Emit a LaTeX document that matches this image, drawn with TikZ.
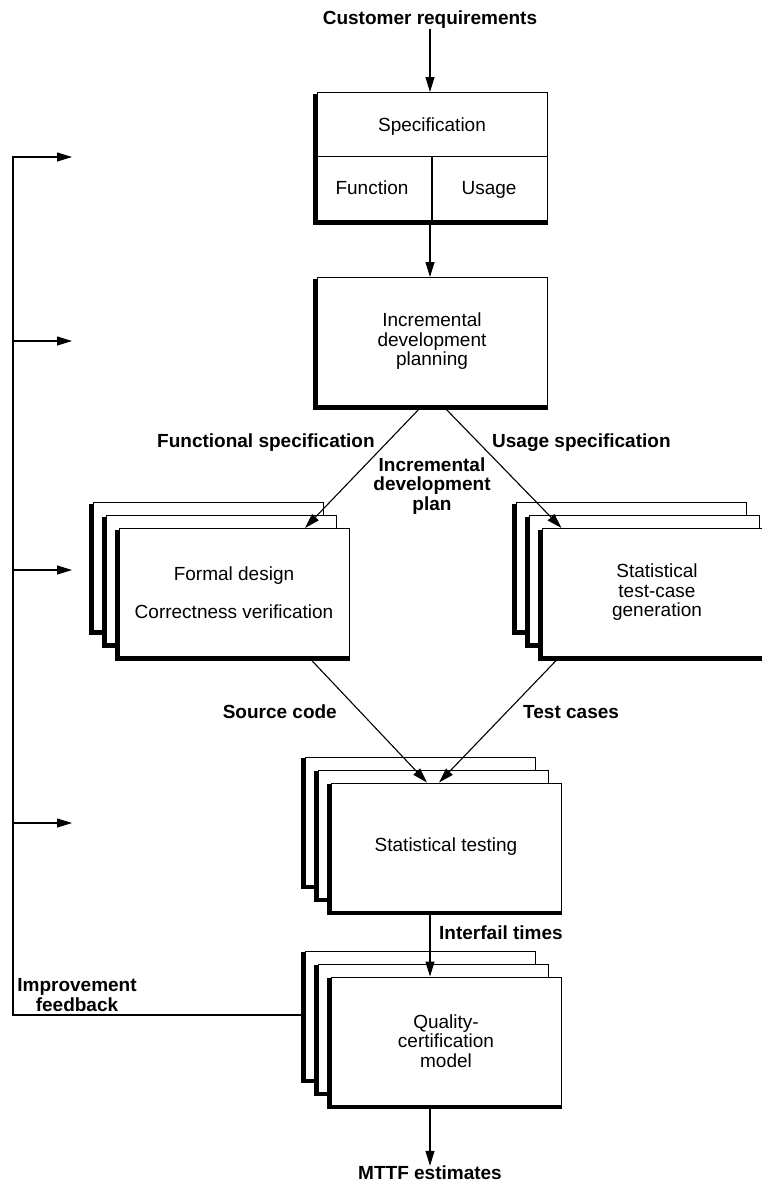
\documentclass[tikz,border=0pt]{standalone}
\usepackage{fontspec}
\setmainfont{Liberation Sans}
\usetikzlibrary{arrows.meta}

\newcommand\fs{\fontsize{19}{19.5}\selectfont}

\tikzset{
  x=1pt, y=-1pt,
  box/.style={draw, fill=white, line width=1pt, minimum width=230pt,
              minimum height=128pt, inner sep=0pt, align=center, font=\fs},
  lbl/.style={font=\fs\bfseries, inner sep=0pt, align=center},
  txt/.style={font=\fs, inner sep=0pt, align=center},
  arr/.style={line width=1.1pt, -{Triangle[length=15pt,width=9pt]}},
  ln/.style={line width=1.1pt},
  shadeedge/.style={line width=4pt, line join=miter},
}

% heavy rule along the left and bottom side of a box
\newcommand\edgeshade[1]{%
  \draw[shadeedge] ([shift={(-1.5pt,-1.5pt)}]#1.north west)
    -- ([shift={(-1.5pt,-1.5pt)}]#1.south west)
    -- ([shift={(0pt,-1.5pt)}]#1.south east);}

% three staggered cards; the front one carries the text
\newcommand\cardstack[4]{%
  \node[box] (#1c) at (#2-26,#3-26) {}; \edgeshade{#1c}
  \node[box] (#1b) at (#2-13,#3-13) {}; \edgeshade{#1b}
  \node[box] (#1) at (#2,#3) {#4}; \edgeshade{#1}}

\begin{document}
\begin{tikzpicture}
\useasboundingbox (0,0) rectangle (762,1184);
\clip (0,0) rectangle (762,1184);

% input
\node[lbl] (cust) at (430,20) {Customer requirements};

% specification box with its subdivisions
\node[box] (spec) at (432,156.5) {}; \edgeshade{spec}
\draw[ln] (spec.west) -- (spec.east);
\draw[ln] (spec.center) -- (spec.south);
\node[txt, anchor=base] (spectitle) at (432,131) {Specification};
\node[txt, anchor=base] (fun) at (372,194) {Function};
\node[txt, anchor=base] (use) at (489,194) {Usage};

% planning
\node[box] (inc) at (432,341.5) {Incremental\\development\\planning}; \edgeshade{inc}

% parallel activities
\cardstack{fd}{234}{592.5}{Formal design\\[19pt]Correctness verification}
\cardstack{tc}{657}{592.5}{Statistical\\test-case\\generation}
\cardstack{st}{446}{847}{Statistical testing}
\cardstack{qc}{446}{1041}{Quality-\\certification\\model}

% flow labels
\node[lbl, anchor=west] (funcspec) at (157,443) {Functional specification};
\node[lbl, anchor=west] (usespec) at (492,443) {Usage specification};
\node[lbl] (plan) at (432,486) {Incremental\\development\\plan};
\node[lbl, anchor=east] (src) at (337,712) {Source code};
\node[lbl, anchor=west] (tcases) at (523,712) {Test cases};
\node[lbl, anchor=west] (ift) at (439,933) {Interfail times};
\node[lbl] (impfb) at (77,995) {Improvement\\feedback};
\node[lbl] (mttf) at (430,1173) {MTTF estimates};

% main flow
\draw[arr] (cust.south) -- (cust.south |- spec.north);
\draw[arr] (spec.south -| cust.south) -- (cust.south |- inc.north);
\draw[arr] ([xshift=-10pt]inc.south) -- ([xshift=71pt]fd.north);
\draw[arr] ([xshift=11pt]inc.south) -- ([xshift=20pt]tc.north west);
\draw[arr] ([xshift=-41pt]fd.south east) -- ([xshift=-19pt]st.north);
\draw[arr] ([xshift=18pt]tc.south west) -- ([xshift=-7pt]st.north);
\draw[arr] ([xshift=-16pt]st.south) -- ([xshift=-16pt]qc.north);
\draw[arr] ([xshift=-16pt]qc.south) -- (mttf.north);

% improvement feedback loop
\coordinate (fbcorner) at (13,1015);
\coordinate (fbtop) at (13,157);
\coordinate (fb1) at (72,157);
\coordinate (s2) at (13,341);
\coordinate (fb2) at (72,341);
\coordinate (s3) at (13,570);
\coordinate (fb3) at (72,570);
\coordinate (s4) at (13,823);
\coordinate (fb4) at (72,823);
\draw[arr] (qcc.west) -- (fbcorner) -- (fbtop) -- (fb1);
\draw[arr] (s2) -- (fb2);
\draw[arr] (s3) -- (fb3);
\draw[arr] (s4) -- (fb4);
\end{tikzpicture}
\end{document}
